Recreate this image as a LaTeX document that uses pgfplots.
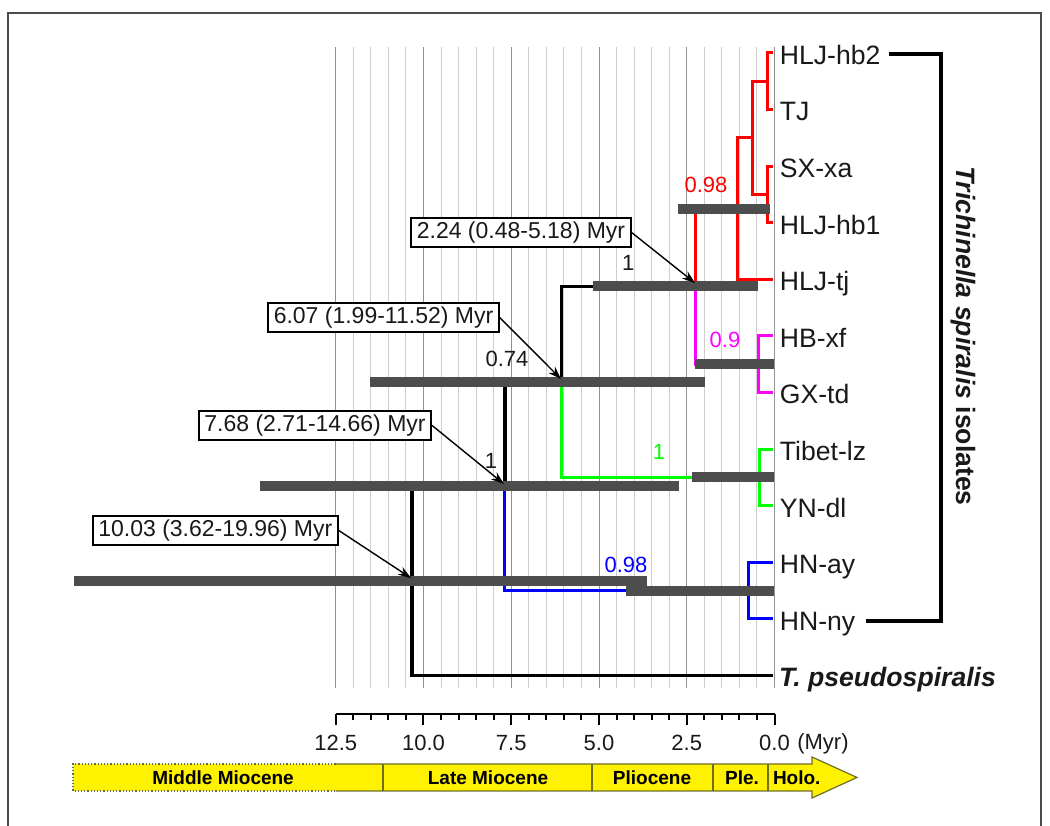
\documentclass[border=0pt]{standalone}
\usepackage{pgfplots}
\pgfplotsset{compat=1.18}
\usepackage{fontspec}
\setmainfont{Liberation Sans}
\usetikzlibrary{arrows.meta}
\definecolor{barc}{RGB}{77,77,77}
\definecolor{gridc}{RGB}{205,205,205}
\definecolor{gridm}{RGB}{145,145,145}
\definecolor{tsb}{RGB}{110,110,40}
\definecolor{cgreen}{RGB}{0,255,0}
\definecolor{cred}{RGB}{255,0,0}
\definecolor{cmag}{RGB}{255,0,255}
\definecolor{cblue}{RGB}{0,0,255}
\definecolor{txt}{RGB}{25,25,25}
\newcommand{\ftaxa}{\fontsize{13.3}{15}\selectfont}
\newcommand{\fcall}{\fontsize{11.5}{13}\selectfont}
\newcommand{\fpost}{\fontsize{11}{13}\selectfont}
\newcommand{\fts}{\fontsize{9.5}{11}\selectfont\bfseries}
\begin{document}
\begin{tikzpicture}
\useasboundingbox (0,0) rectangle (525pt,412.5pt);
\begin{axis}[
  name=main, at={(0,0)}, anchor=south west,
  scale only axis, width=525pt, height=412.5pt,
  xmin=-7.849, xmax=22.066, x dir=reverse,
  ymin=-0.9364, ymax=13.640, y dir=reverse,
  axis lines=none, ticks=none, clip=false,
]
% frame
\draw[black!70, line width=0.8pt] (axis cs:21.838,13.7) -- (axis cs:21.838,-0.7067) -- (axis cs:-7.593,-0.7067) -- (axis cs:-7.593,13.7);
% grid
\pgfplotsinvokeforeach{0,0.5,...,12.5}{\draw[gridc, line width=0.5pt] (axis cs:#1,-0.1) -- (axis cs:#1,11.22);}
\pgfplotsinvokeforeach{0,2.5,...,12.5}{\draw[gridm, line width=0.5pt] (axis cs:#1,-0.1) -- (axis cs:#1,11.22);}
% tree: red clade
\addplot[cred, line width=1.5pt] coordinates {(0.03,0) (0.21,0) (0.21,1) (0.03,1)};
\addplot[cred, line width=1.5pt] coordinates {(0.03,2) (0.21,2) (0.21,3) (0.03,3)};
\addplot[cred, line width=1.5pt] coordinates {(0.21,0.5) (0.64,0.5) (0.64,2.5) (0.21,2.5)};
\addplot[cred, line width=1.5pt] coordinates {(0.64,1.5) (1.04,1.5) (1.04,4) (0.03,4)};
\addplot[cred, line width=1.5pt] coordinates {(1.04,2.75) (2.24,2.75) (2.24,4.125)};
% magenta
\addplot[cmag, line width=1.5pt] coordinates {(2.24,4.125) (2.24,5.5) (0.47,5.5)};
\addplot[cmag, line width=1.5pt] coordinates {(0.03,5) (0.47,5) (0.47,6) (0.03,6)};
% black
\addplot[black, line width=1.7pt] coordinates {(2.24,4.125) (6.07,4.125) (6.07,5.8125)};
% green
\addplot[cgreen, line width=1.5pt] coordinates {(6.07,5.8125) (6.07,7.5) (0.44,7.5)};
\addplot[cgreen, line width=1.5pt] coordinates {(0.03,7) (0.44,7) (0.44,8) (0.03,8)};
% black
\addplot[black, line width=1.7pt] coordinates {(6.07,5.8125) (7.68,5.8125) (7.68,7.656)};
% blue
\addplot[cblue, line width=1.5pt] coordinates {(7.68,7.656) (7.68,9.5) (0.75,9.5)};
\addplot[cblue, line width=1.5pt] coordinates {(0.03,9) (0.75,9) (0.75,10) (0.03,10)};
% root
\addplot[black, line width=1.7pt] coordinates {(7.68,7.656) (10.33,7.656) (10.33,11) (0.05,11)};
% HPD bars
\addplot[barc, line width=5pt] coordinates {(19.96,9.328) (3.62,9.328)};
\addplot[barc, line width=5pt] coordinates {(14.66,7.656) (2.71,7.656)};
\addplot[barc, line width=5pt] coordinates {(11.52,5.8125) (1.99,5.8125)};
\addplot[barc, line width=5pt] coordinates {(5.18,4.125) (0.48,4.125)};
\addplot[barc, line width=5pt] coordinates {(2.75,2.75) (0.13,2.75)};
\addplot[barc, line width=5pt] coordinates {(2.26,5.5) (0,5.5)};
\addplot[barc, line width=5pt] coordinates {(2.35,7.5) (0,7.5)};
\addplot[barc, line width=5pt] coordinates {(4.23,9.5) (0,9.5)};
% posterior labels
\node[cred, font=\fpost, inner sep=0] at (axis cs:1.95,2.332) {0.98};
\node[txt, font=\fpost, inner sep=0] at (axis cs:4.17,3.71) {1};
\node[cmag, font=\fpost, inner sep=0] at (axis cs:1.41,5.07) {0.9};
\node[txt, font=\fpost, inner sep=0] at (axis cs:7.62,5.41) {0.74};
\node[cgreen, font=\fpost, inner sep=0] at (axis cs:3.29,7.05) {1};
\node[txt, font=\fpost, inner sep=0] at (axis cs:8.08,7.20) {1};
\node[cblue, font=\fpost, inner sep=0] at (axis cs:4.23,9.05) {0.98};
% callouts
\tikzset{callout/.style={draw=black, line width=0.8pt, fill=white, font=\fcall, text=txt, inner xsep=2.8pt, inner ysep=2pt},
         arr/.style={black, line width=0.7pt, -{Stealth[length=6.5pt,width=4.5pt]}}}
\node[callout] (A) at (axis cs:7.222,3.171) {2.24 (0.48-5.18) Myr};
\draw[arr] (A.east) -- (axis cs:2.265,4.064);
\node[callout] (B) at (axis cs:11.14,4.673) {6.07 (1.99-11.52) Myr};
\draw[arr] (B.east) -- (axis cs:6.083,5.76);
\node[callout] (C) at (axis cs:13.09,6.58) {7.68 (2.71-14.66) Myr};
\draw[arr] (C.east) -- (axis cs:7.707,7.615);
\node[callout] (D) at (axis cs:15.93,8.436) {10.03 (3.62-19.96) Myr};
\draw[arr] (D.east) -- (axis cs:10.356,9.276);
% taxa
\node[anchor=base west, inner sep=0, font=\ftaxa, text=txt] at (axis cs:-0.142,0.2) {HLJ-hb2};
\node[anchor=base west, inner sep=0, font=\ftaxa, text=txt] at (axis cs:-0.142,1.2) {TJ};
\node[anchor=base west, inner sep=0, font=\ftaxa, text=txt] at (axis cs:-0.142,2.2) {SX-xa};
\node[anchor=base west, inner sep=0, font=\ftaxa, text=txt] at (axis cs:-0.142,3.2) {HLJ-hb1};
\node[anchor=base west, inner sep=0, font=\ftaxa, text=txt] at (axis cs:-0.142,4.2) {HLJ-tj};
\node[anchor=base west, inner sep=0, font=\ftaxa, text=txt] at (axis cs:-0.142,5.2) {HB-xf};
\node[anchor=base west, inner sep=0, font=\ftaxa, text=txt] at (axis cs:-0.142,6.2) {GX-td};
\node[anchor=base west, inner sep=0, font=\ftaxa, text=txt] at (axis cs:-0.142,7.2) {Tibet-lz};
\node[anchor=base west, inner sep=0, font=\ftaxa, text=txt] at (axis cs:-0.142,8.2) {YN-dl};
\node[anchor=base west, inner sep=0, font=\ftaxa, text=txt] at (axis cs:-0.142,9.2) {HN-ay};
\node[anchor=base west, inner sep=0, font=\ftaxa, text=txt] at (axis cs:-0.142,10.2) {HN-ny};
\node[anchor=base west, inner sep=0, font=\ftaxa\bfseries\itshape, text=txt] at (axis cs:-0.12,11.2) {T. pseudospiralis};
% bracket
\draw[black, line width=1.8pt] (axis cs:-3.262,0.018) -- (axis cs:-4.744,0.018) -- (axis cs:-4.744,10.04) -- (axis cs:-2.607,10.04);
\node[rotate=-90, font=\ftaxa\bfseries, text=txt] at (axis cs:-5.37,5.0) {\textit{Trichinella spiralis} isolates};
% time scale bar
\fill[yellow] (axis cs:19.986,12.562) -- (axis cs:-1.068,12.562) -- (axis cs:-1.068,12.438) -- (axis cs:-2.35,12.80) -- (axis cs:-1.068,13.163) -- (axis cs:-1.068,13.039) -- (axis cs:19.986,13.039) -- cycle;
\draw[tsb, line width=0.6pt] (axis cs:12.507,12.562) -- (axis cs:-1.068,12.562) -- (axis cs:-1.068,12.438) -- (axis cs:-2.35,12.80) -- (axis cs:-1.068,13.163) -- (axis cs:-1.068,13.039) -- (axis cs:12.507,13.039);
\draw[black!60, line width=0.6pt, densely dotted] (axis cs:12.507,12.562) -- (axis cs:19.986,12.562) -- (axis cs:19.986,13.039) -- (axis cs:12.507,13.039);
\pgfplotsinvokeforeach{11.154,5.199,1.752,0.185}{\draw[tsb, line width=0.6pt] (axis cs:#1,12.562) -- (axis cs:#1,13.039);}
\node[font=\fts] at (axis cs:15.71,12.80) {Middle Miocene};
\node[font=\fts] at (axis cs:8.162,12.80) {Late Miocene};
\node[font=\fts] at (axis cs:3.49,12.80) {Pliocene};
\node[font=\fts] at (axis cs:0.926,12.80) {Ple.};
\node[font=\fts] at (axis cs:-0.634,12.80) {Holo.};
\node[font=\fontsize{11}{12}\selectfont, text=txt] at (axis cs:-1.38,12.21) {(Myr)};
\end{axis}
\begin{axis}[
  at={(167.875pt,55.5pt)}, anchor=south west,
  scale only axis, width=219.375pt, height=1pt,
  xmin=0, xmax=12.5, x dir=reverse, ymin=0, ymax=1,
  axis x line=bottom, axis y line=none,
  axis line style={-, line width=1pt, black},
  tick align=outside, tick style={line width=1pt, black},
  major tick length=5.5pt, minor tick length=3pt,
  xtick={0,2.5,5,7.5,10,12.5}, minor x tick num=4,
  xticklabel style={font=\fontsize{11}{12}\selectfont, text=txt, yshift=-1.5pt, /pgf/number format/fixed, /pgf/number format/fixed zerofill, /pgf/number format/precision=1},
  /pgf/number format/assume math mode=true,
]
\addplot[draw=none] coordinates {(0,0) (12.5,1)};
\end{axis}
\end{tikzpicture}
\end{document}
